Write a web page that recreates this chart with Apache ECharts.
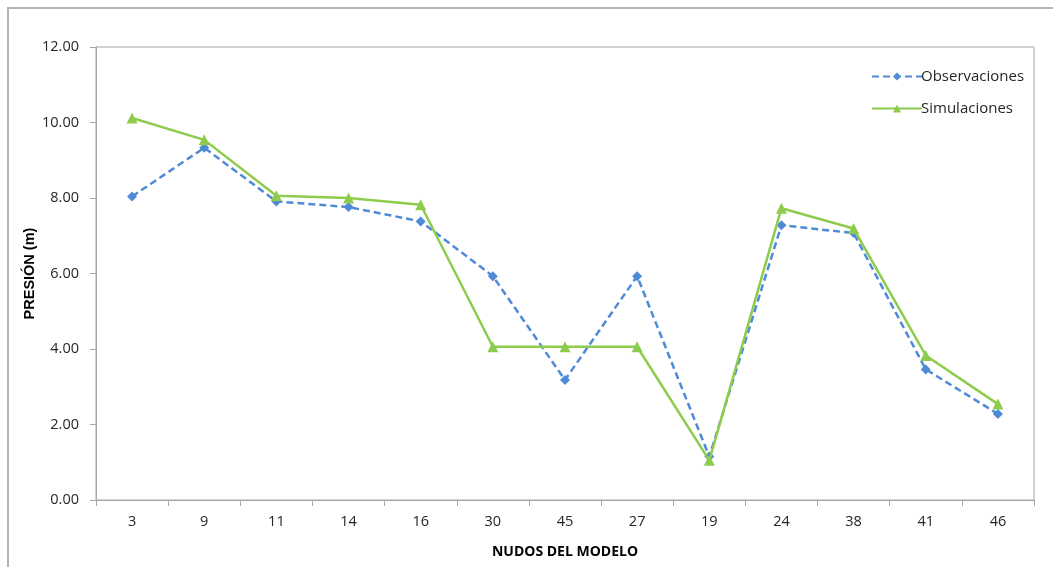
<!DOCTYPE html>
<html>
<head>
<meta charset="utf-8">
<script src="https://cdn.jsdelivr.net/npm/echarts@6/dist/echarts.min.js"></script>
<style>
  html, body { margin: 0; padding: 0; background: #ffffff; }
  #chart { width: 1053px; height: 567px; }
</style>
</head>
<body>
<div id="chart"></div>
<script>
// Nodos del modelo (eje X)
const nudos = ['3', '9', '11', '14', '16', '30', '45', '27', '19', '24', '38', '41', '46'];

// Presión observada en campo (m)
const observaciones = [8.04, 9.33, 7.91, 7.76, 7.38, 5.93, 3.18, 5.93, 1.15, 7.28, 7.07, 3.46, 2.28];

// Presión obtenida con el modelo (m)
const simulaciones = [10.12, 9.54, 8.06, 8.00, 7.82, 4.06, 4.06, 4.06, 1.05, 7.73, 7.19, 3.83, 2.54];

// Marcas del eje Y
const yMin = 0, yMax = 12, yStep = 2;

const colorObs = '#4F8AD6';
const colorSim = '#8DCC4C';
const gridColor = '#a6a6a6';
const textColor = '#262626';
const font = 'Open Sans, sans-serif';

const chart = echarts.init(document.getElementById('chart'));

chart.setOption({
  backgroundColor: '#ffffff',
  animation: false,
  graphic: [{
    type: 'rect',
    shape: { x: 8, y: 8, width: 1200, height: 700 },
    style: { fill: 'none', stroke: '#b4b4b4', lineWidth: 2 },
    silent: true
  }],
  grid: {
    left: 96, right: 19, top: 47, bottom: 67,
    show: true, borderColor: gridColor, borderWidth: 1
  },
  legend: {
    orient: 'vertical',
    left: 866, top: 64,
    itemWidth: 50, itemHeight: 10, itemGap: 17,
    textStyle: { fontFamily: font, fontSize: 15, color: textColor, padding: [0, 0, 0, -6] },
    data: ['Observaciones', 'Simulaciones']
  },
  xAxis: {
    type: 'category',
    data: nudos,
    boundaryGap: true,
    name: 'NUDOS DEL MODELO',
    nameLocation: 'middle',
    nameGap: 45,
    nameMoveOverlap: false,
    nameTextStyle: { fontFamily: font, fontWeight: 'bold', fontSize: 14, color: '#000' },
    axisLine: { lineStyle: { color: gridColor, width: 1 } },
    axisTick: { show: true, length: 6, lineStyle: { color: gridColor } },
    axisLabel: { margin: 14, fontFamily: font, fontSize: 14.5, color: textColor },
    splitLine: { show: false }
  },
  yAxis: {
    type: 'value',
    min: yMin, max: yMax, interval: yStep,
    name: 'PRESIÓN (m)',
    nameLocation: 'middle',
    nameGap: 59,
    nameMoveOverlap: false,
    nameRotate: 90,
    nameTextStyle: { fontFamily: 'Liberation Sans, Arial, sans-serif', fontWeight: 'bold', fontSize: 14.5, color: '#000' },
    axisLine: { show: true, lineStyle: { color: gridColor, width: 1 } },
    axisTick: { show: true, inside: false, length: 6, lineStyle: { color: gridColor } },
    axisLabel: {
      margin: 17, fontFamily: font, fontSize: 14.5, color: textColor,
      formatter: v => v.toFixed(2)
    },
    splitLine: { show: false }
  },
  series: [
    {
      name: 'Observaciones',
      type: 'line',
      data: observaciones,
      symbol: 'diamond',
      symbolSize: 10,
      itemStyle: { color: colorObs },
      lineStyle: { color: colorObs, width: 2.5, type: [7, 4] },
      z: 2
    },
    {
      name: 'Simulaciones',
      type: 'line',
      data: simulaciones,
      symbol: 'triangle',
      symbolSize: 11,
      itemStyle: { color: colorSim },
      lineStyle: { color: colorSim, width: 2.5 },
      z: 3
    }
  ]
});
</script>
</body>
</html>
